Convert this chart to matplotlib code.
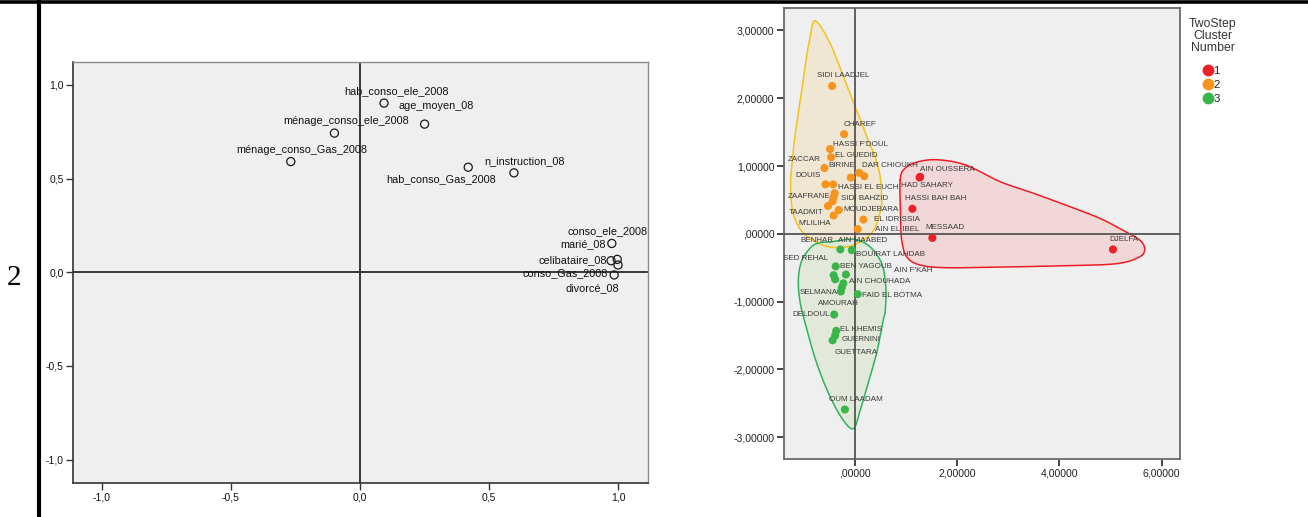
import numpy as np
import matplotlib
matplotlib.use("Agg")
import matplotlib.pyplot as plt
from matplotlib.lines import Line2D

plt.rcParams["font.family"] = ["Liberation Sans", "DejaVu Sans"]

# ---------------- component loadings (left panel) ----------------
var_names = ["hab_conso_ele_2008", "age_moyen_08", "ménage_conso_ele_2008",
             "ménage_conso_Gas_2008", "hab_conso_Gas_2008", "n_instruction_08",
             "conso_ele_2008", "marié_08", "celibataire_08", "conso_Gas_2008",
             "divorcé_08"]
comp1 = [0.093, 0.250, -0.099, -0.268, 0.419, 0.596, 0.996, 0.975, 0.972, 0.984, 0.999]
comp2 = [0.903, 0.791, 0.743, 0.591, 0.561, 0.531, 0.069, 0.154, 0.062, -0.014, 0.039]
loading_ticks = [-1.0, -0.5, 0.0, 0.5, 1.0]

# ---------------- cluster scores (right panel) ----------------
cluster_ids = [1, 2, 3]
cl1_names = ["AIN OUSSERA", "HAD SAHARY", "HASSI BAH BAH", "MESSAAD", "DJELFA"]
cl1_x = [1.28, 1.27, 1.13, 1.52, 5.05]
cl1_y = [0.84, 0.83, 0.37, -0.06, -0.23]

cl2_names = ["SIDI LAADJEL", "CHAREF", "HASSI F'DOUL", "EL GUEDID", "ZACCAR", "BIRINE",
             "DAR CHIOUKH", "", "DOUIS", "HASSI EL EUCH", "ZAAFRANE", "SIDI BAHZID", "",
             "TAADMIT", "MOUDJEBARA", "M'LILIHA", "EL IDRISSIA", "AIN EL IBEL"]
cl2_x = [-0.44, -0.205, -0.48, -0.46, -0.59, -0.074, 0.088, 0.19, -0.57, -0.42, -0.39,
         -0.41, -0.43, -0.52, -0.31, -0.41, 0.17, 0.06]
cl2_y = [2.18, 1.47, 1.25, 1.13, 0.97, 0.83, 0.90, 0.85, 0.73, 0.73, 0.60, 0.54, 0.48,
         0.41, 0.35, 0.27, 0.21, 0.07]

cl3_names = ["BENHAR", "AIN MAABED", "BEN YAGOUB", "SED REHAL", "BOUIRAT LAHDAB", "SELMANA",
             "AIN CHOUHADA", "AIN F'KAH", "AMOURAH", "FAID EL BOTMA", "DELDOUL",
             "EL KHEMIS", "GUERNINI", "GUETTARA", "OUM LAADAM"]
cl3_x = [-0.28, -0.055, -0.37, -0.41, -0.17, -0.38, -0.22, -0.25, -0.27, 0.06, -0.40,
         -0.36, -0.38, -0.43, -0.19]
cl3_y = [-0.23, -0.24, -0.48, -0.61, -0.60, -0.67, -0.73, -0.79, -0.85, -0.89, -1.19,
         -1.43, -1.50, -1.57, -2.59]
score_xticks = [0.0, 2.0, 4.0, 6.0]
score_yticks = [-3.0, -2.0, -1.0, 0.0, 1.0, 2.0, 3.0]

# ---------------- layout: label offsets (pixels) ----------------
var_label_off = [(12, 12, "center"), (12, 18, "center"), (12, 12, "center"),
                 (11, 12, "center"), (-27, -12, "center"), (11, 12, "center"),
                 (30, 28, "right"), (-6, -1, "right"), (-4, 1, "right"),
                 (-6, 2, "right"), (1, -23, "right")]
cl1_off = [(0, 7, "left"), (-19, -8, "left"), (-7, 10, "left"), (-7, 10, "left"),
           (11, 10, "center")]
cl2_off = [(11, 10, "center"), (16, 10, "center"), (3, 5, "left"), (4, 2, "left"),
           (-4, 9, "right"), (-9, 12, "center"), (3, 7, "left"), (0, 0, "left"),
           (-5, 9, "right"), (5, -3, "left"), (-4, -3, "right"), (7, -1, "left"),
           (0, 0, "left"), (-4, -6, "right"), (5, 1, "left"), (-3, -8, "right"),
           (11, 0, "left"), (17, 0, "left")]
cl3_off = [(-7, 9, "right"), (11, 10, "center"), (4, 0, "left"), (-6, 17, "right"),
           (10, 20, "left"), (3, -13, "right"), (6, 2, "left"), (52, 17, "left"),
           (-2, -12, "center"), (4, -1, "left"), (-4, 0, "right"), (4, 1, "left"),
           (6, -4, "left"), (2, -12, "left"), (11, 10, "center")]

# smooth envelopes drawn around each cluster (data units)
env1 = [(0.89, 0.79), (0.99, 0.97), (1.28, 1.07), (1.67, 1.09), (2.19, 1.01), (2.84, 0.77),
        (3.49, 0.60), (4.14, 0.42), (4.79, 0.23), (5.25, 0.05), (5.57, -0.09), (5.67, -0.22),
        (5.57, -0.34), (5.12, -0.44), (4.14, -0.47), (2.84, -0.49), (1.80, -0.50),
        (1.28, -0.46), (1.02, -0.34), (0.92, -0.09), (0.90, 0.25)]
env2 = [(-0.77, 3.14), (-0.48, 2.81), (-0.22, 2.32), (0.04, 1.82), (0.24, 1.43), (0.40, 1.14),
        (0.50, 0.84), (0.53, 0.50), (0.51, 0.35), (0.37, 0.05), (0.11, -0.12), (-0.22, -0.20),
        (-0.61, -0.17), (-1.00, 0.01), (-1.20, 0.30), (-1.25, 0.69), (-1.23, 0.99),
        (-1.16, 1.48), (-1.06, 1.97), (-0.97, 2.46), (-0.88, 2.86)]
env3 = [(-0.48, -0.12), (-0.02, -0.08), (0.30, -0.19), (0.53, -0.44), (0.61, -0.78),
        (0.60, -1.13), (0.56, -1.27), (0.43, -1.76), (0.24, -2.26), (0.11, -2.60),
        (-0.02, -2.87), (-0.22, -2.75), (-0.48, -2.40), (-0.74, -1.91), (-0.93, -1.42),
        (-1.06, -1.03), (-1.10, -0.68), (-1.03, -0.39), (-0.84, -0.19), (-0.67, -0.13)]

W, H = 1308, 517
fig = plt.figure(figsize=(W / 100, H / 100), dpi=100)
fig.patch.set_facecolor("white")


def frac(x0, y0, x1, y1):
    return [x0 / W, 1 - y1 / H, (x1 - x0) / W, (y1 - y0) / H]


def comma(v, nd):
    s = f"{v:.{nd}f}".replace(".", ",")
    if nd > 1 and s.startswith("0,"):
        s = s[1:]
    if nd > 1 and s.startswith("-0,"):
        s = "-" + s[2:]
    return s


def closed_curve(pts, n=40):
    p = np.asarray(pts, dtype=float)
    m = len(p)
    out = []
    for i in range(m):
        p0, p1, p2, p3 = p[(i - 1) % m], p[i], p[(i + 1) % m], p[(i + 2) % m]
        t = np.linspace(0, 1, n, endpoint=False)[:, None]
        out.append(0.5 * ((2 * p1) + (-p0 + p2) * t + (2 * p0 - 5 * p1 + 4 * p2 - p3) * t ** 2
                          + (-p0 + 3 * p1 - 3 * p2 + p3) * t ** 3))
    out = np.vstack(out)
    return np.vstack([out, out[:1]])


# page decorations
fig.add_artist(Line2D([0, 1], [1 - 1.5 / H, 1 - 1.5 / H], transform=fig.transFigure,
                      color="black", lw=2.6))
fig.add_artist(Line2D([39 / W, 39 / W], [0, 1], transform=fig.transFigure,
                      color="black", lw=3.0))
fig.text(14 / W, 1 - 278 / H, "2", family=["Liberation Serif", "DejaVu Serif"],
         fontsize=21, ha="center", va="center")

# ---------------- left panel ----------------
ax1 = fig.add_axes(frac(73.3, 62.3, 648, 482.7))
ax1.set_facecolor("#efefef")
ax1.set_xlim(-1.11, 1.115)
ax1.set_ylim(-1.123, 1.121)
ax1.axvline(0, color="#3a3a3a", lw=1.4, zorder=1)
ax1.axhline(0, color="#3a3a3a", lw=1.4, zorder=1)
ax1.scatter(comp1, comp2, s=34, facecolors="none", edgecolors="#1a1a1a", linewidths=0.9,
            zorder=3)
for name, x, y, (dx, dy, ha) in zip(var_names, comp1, comp2, var_label_off):
    ax1.annotate(name, (x, y), xytext=(dx, dy), textcoords="offset pixels", ha=ha,
                 va="center", fontsize=7.8, color="#111111", zorder=4)
ax1.set_xticks(loading_ticks)
ax1.set_yticks(loading_ticks)
ax1.set_xticklabels([comma(v, 1) for v in loading_ticks])
ax1.set_yticklabels([comma(v, 1) for v in loading_ticks])
ax1.tick_params(direction="out", length=5, width=1.0, color="#333333", labelsize=7.5,
                labelcolor="#111111", pad=2)
for side in ["left", "bottom"]:
    ax1.spines[side].set_color("#333333")
    ax1.spines[side].set_linewidth(1.2)
for side in ["top", "right"]:
    ax1.spines[side].set_color("#8a8a8a")
    ax1.spines[side].set_linewidth(1.0)

# ---------------- right panel ----------------
ax2 = fig.add_axes(frac(784, 8, 1180, 459))
ax2.set_facecolor("#efefef")
ax2.set_xlim(-1.38, 6.36)
ax2.set_ylim(-3.32, 3.33)
ax2.axvline(0, color="#555555", lw=1.3, zorder=3)
ax2.axhline(0, color="#555555", lw=1.3, zorder=3)

cluster_style = {
    1: dict(point="#ec2028", edge="#ee1c25", fill="#f2d3d4"),
    2: dict(point="#f7941d", edge="#f4c21b", fill="#efe5cf"),
    3: dict(point="#3ab54a", edge="#2eb35a", fill="#e0e9d8"),
}
groups = [(1, cl1_names, cl1_x, cl1_y, cl1_off, env1),
          (2, cl2_names, cl2_x, cl2_y, cl2_off, env2),
          (3, cl3_names, cl3_x, cl3_y, cl3_off, env3)]
for cid, names, xs, ys, offs, env in groups:
    st = cluster_style[cid]
    c = closed_curve(env)
    ax2.fill(c[:, 0], c[:, 1], color=st["fill"], alpha=0.85, zorder=1, lw=0)
    ax2.plot(c[:, 0], c[:, 1], color=st["edge"], lw=1.1, zorder=2)
for cid, names, xs, ys, offs, env in groups:
    st = cluster_style[cid]
    ax2.scatter(xs, ys, s=34, color=st["point"], edgecolors="none", zorder=5)
    for name, x, y, (dx, dy, ha) in zip(names, xs, ys, offs):
        if name:
            ax2.annotate(name, (x, y), xytext=(dx, dy), textcoords="offset pixels", ha=ha,
                         va="center", fontsize=5.8, color="#3a3a3a", zorder=6)

ax2.set_xticks(score_xticks)
ax2.set_yticks(score_yticks)
ax2.set_xticklabels([comma(v, 5) for v in score_xticks])
ax2.set_yticklabels([comma(v, 5) for v in score_yticks])
ax2.tick_params(direction="out", length=5, width=1.4, color="#444444", labelsize=7.6,
                labelcolor="#222222", pad=2)
for side in ax2.spines.values():
    side.set_color("#6a6a6a")
    side.set_linewidth(1.3)

# legend for cluster membership
fig.text(1213 / W, 1 - 36 / H, "TwoStep\nCluster\nNumber", ha="center", va="center",
         fontsize=8.8, color="#333333", linespacing=1.05)
for k, cid in enumerate(cluster_ids):
    ly = 1 - (70 + 14 * k) / H
    fig.add_artist(Line2D([1208.3 / W], [ly], transform=fig.transFigure, marker="o",
                          markersize=7.5, color=cluster_style[cid]["point"], lw=0))
    fig.text(1213.5 / W, ly - 0.8 / H, str(cid), ha="left", va="center", fontsize=8.2,
             color="#222222")

fig.savefig("out.png", dpi=100, facecolor="white")
